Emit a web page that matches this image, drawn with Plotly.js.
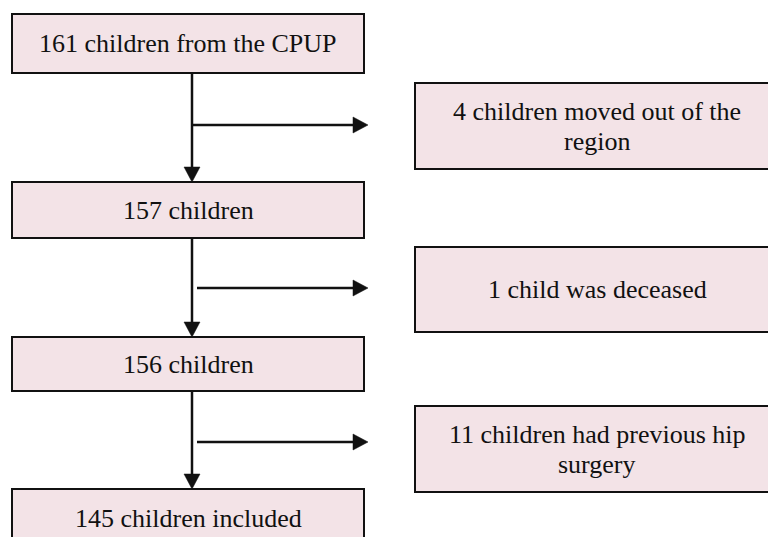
<!DOCTYPE html>
<html>
<head>
<meta charset="utf-8">
<script src="https://cdn.plot.ly/plotly-3.0.1.min.js"></script>
<style>html,body{margin:0;padding:0;background:#fff;}#chart{width:768px;height:537px;}</style>
</head>
<body>
<div id="chart"></div>
<script>
// ---- Data (flow chart texts) ----
const mainLabels = ["161 children from the CPUP", "157 children", "156 children", "145 children included"];
const exclLabels = [
  ["4 children moved out of the", "region"],
  ["1 child was deceased"],
  ["11 children had previous hip", "surgery"]
];

// ---- Layout geometry (pixel-like data units) ----
const W = 768, H = 537;
const mainX = [12, 364];
const mainY = [[14, 73], [182, 238], [337, 391], [489, 548]];
const exclX = [415, 779];
const exclY = [[83, 169], [247, 332], [406, 492]];
const spineX = 192;
const branchY = [125, 288, 442];
const branchStart = [192, 197, 197];
const branchEnd = 368;
const fill = "#F3E3E7";
const stroke = "#111111";
const fontFamily = "Liberation Serif";
const fontSize = 26;
const lineGap = 30;
const head = 15, headHalf = 8;

const shapes = [];
const annotations = [];

function box(x0, x1, y0, y1) {
  shapes.push({type: "rect", xref: "x", yref: "y", x0: x0, x1: x1, y0: y0, y1: y1,
    fillcolor: fill, line: {color: stroke, width: 2}, layer: "below"});
}
function lines(textLines, cx, cy) {
  const n = textLines.length;
  textLines.forEach((t, i) => {
    annotations.push({text: t, x: cx, y: cy + (i - (n - 1) / 2) * lineGap, xref: "x", yref: "y",
      showarrow: false, xanchor: "center", yanchor: "middle",
      font: {family: fontFamily, size: fontSize, color: "#111"}});
  });
}

mainLabels.forEach((lab, i) => {
  box(mainX[0], mainX[1], mainY[i][0], mainY[i][1]);
  lines([lab], (mainX[0] + mainX[1]) / 2, (mainY[i][0] + mainY[i][1]) / 2);
});
exclLabels.forEach((lab, i) => {
  box(exclX[0], exclX[1], exclY[i][0], exclY[i][1]);
  lines(lab, (exclX[0] + exclX[1]) / 2, (exclY[i][0] + exclY[i][1]) / 2);
});

for (let i = 0; i < mainY.length - 1; i++) {
  const y0 = mainY[i][1], y1 = mainY[i + 1][0];
  shapes.push({type: "line", xref: "x", yref: "y", x0: spineX, x1: spineX, y0: y0, y1: y1 - head + 2,
    line: {color: stroke, width: 2.5}});
  shapes.push({type: "path", xref: "x", yref: "y",
    path: `M ${spineX - headHalf} ${y1 - head} L ${spineX + headHalf} ${y1 - head} L ${spineX} ${y1} Z`,
    fillcolor: stroke, line: {color: stroke, width: 0.5}});
}
branchY.forEach((y, i) => {
  shapes.push({type: "line", xref: "x", yref: "y", x0: branchStart[i], x1: branchEnd - head + 2, y0: y, y1: y,
    line: {color: stroke, width: 2.5}});
  shapes.push({type: "path", xref: "x", yref: "y",
    path: `M ${branchEnd - head} ${y - headHalf} L ${branchEnd - head} ${y + headHalf} L ${branchEnd} ${y} Z`,
    fillcolor: stroke, line: {color: stroke, width: 0.5}});
});

const layout = {
  width: W, height: H,
  margin: {l: 0, r: 0, t: 0, b: 0, pad: 0},
  paper_bgcolor: "#ffffff", plot_bgcolor: "#ffffff",
  showlegend: false,
  font: {family: fontFamily},
  xaxis: {range: [0, W], visible: false, fixedrange: true, showgrid: false, zeroline: false},
  yaxis: {range: [H, 0], visible: false, fixedrange: true, showgrid: false, zeroline: false},
  shapes: shapes,
  annotations: annotations
};

Plotly.newPlot("chart", [{x: [], y: [], type: "scatter", mode: "markers", hoverinfo: "skip"}], layout,
  {displayModeBar: false, staticPlot: true});
</script>
</body>
</html>
